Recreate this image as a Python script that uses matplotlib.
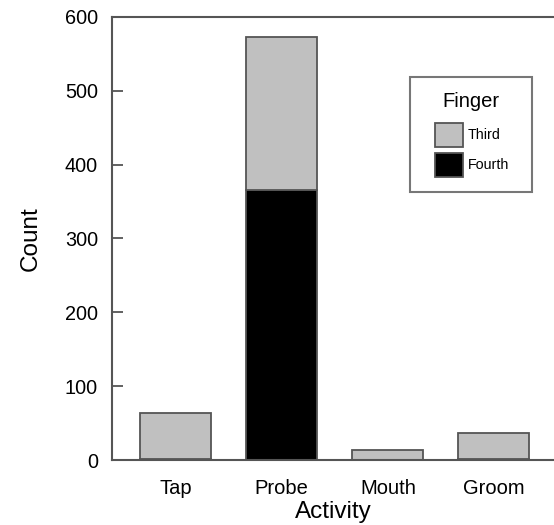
import matplotlib
matplotlib.use("Agg")
import matplotlib.pyplot as plt
from matplotlib.patches import Patch
from matplotlib.offsetbox import DrawingArea

categories = ["Tap", "Probe", "Mouth", "Groom"]
fourth = [1, 366, 0, 2]
third = [63, 207, 13, 35]
yticks = [0, 100, 200, 300, 400, 500, 600]

plt.rcParams['font.family'] = ['Liberation Sans', 'DejaVu Sans']

fig = plt.figure(figsize=(5.54, 5.25), dpi=100)
ax = fig.add_axes([112/554, 1-460/525, (600-112)/554, (460-17)/525])

x = list(range(len(categories)))
edge = "#555555"
ax.bar(x, fourth, width=0.67, color="black", edgecolor=edge, linewidth=1.3)
ax.bar(x, third, bottom=fourth, width=0.67, color="#c0c0c0", edgecolor=edge, linewidth=1.3)

ax.set_ylim(0, 600)
ax.set_xlim(-0.6, 4.0)
ax.set_yticks(yticks)
ax.set_xticks(x)
ax.set_xticklabels(categories)
ax.tick_params(axis='y', direction='in', length=8, width=1.3, color=edge, pad=10, labelsize=14.3)
ax.tick_params(axis='x', length=0, pad=14, labelsize=14.5)
for s in ['left', 'top', 'bottom']:
    ax.spines[s].set_color(edge)
    ax.spines[s].set_linewidth(1.5)
ax.spines['right'].set_visible(False)

ax.set_ylabel("Count", fontsize=17.5, labelpad=17)
fig.text(333/554, 1-512/525, "Activity", ha='center', va='center', fontsize=17.5)

handles = [Patch(facecolor="#c0c0c0", edgecolor=edge, linewidth=1.3, label="Third"),
           Patch(facecolor="black", edgecolor=edge, linewidth=1.3, label="Fourth")]
leg = ax.legend(handles=handles, title="Finger", loc='upper left',
                bbox_to_anchor=(410/554, 1-77/525), bbox_transform=fig.transFigure,
                fontsize=10.3, title_fontsize=14.5, handlelength=1.96, handleheight=2.2,
                labelspacing=0.42, handletextpad=0.28, borderpad=1.05, fancybox=False,
                borderaxespad=0)
hb = leg._legend_handle_box
hb.sep = 0
hb._children.insert(0, DrawingArea(7.5, 0))
hb._children.append(DrawingArea(6, 0))
leg._legend_box.sep = 8.5
leg.get_frame().set_edgecolor(edge)
leg.get_frame().set_linewidth(1.5)

fig.savefig("out.png", dpi=100)
